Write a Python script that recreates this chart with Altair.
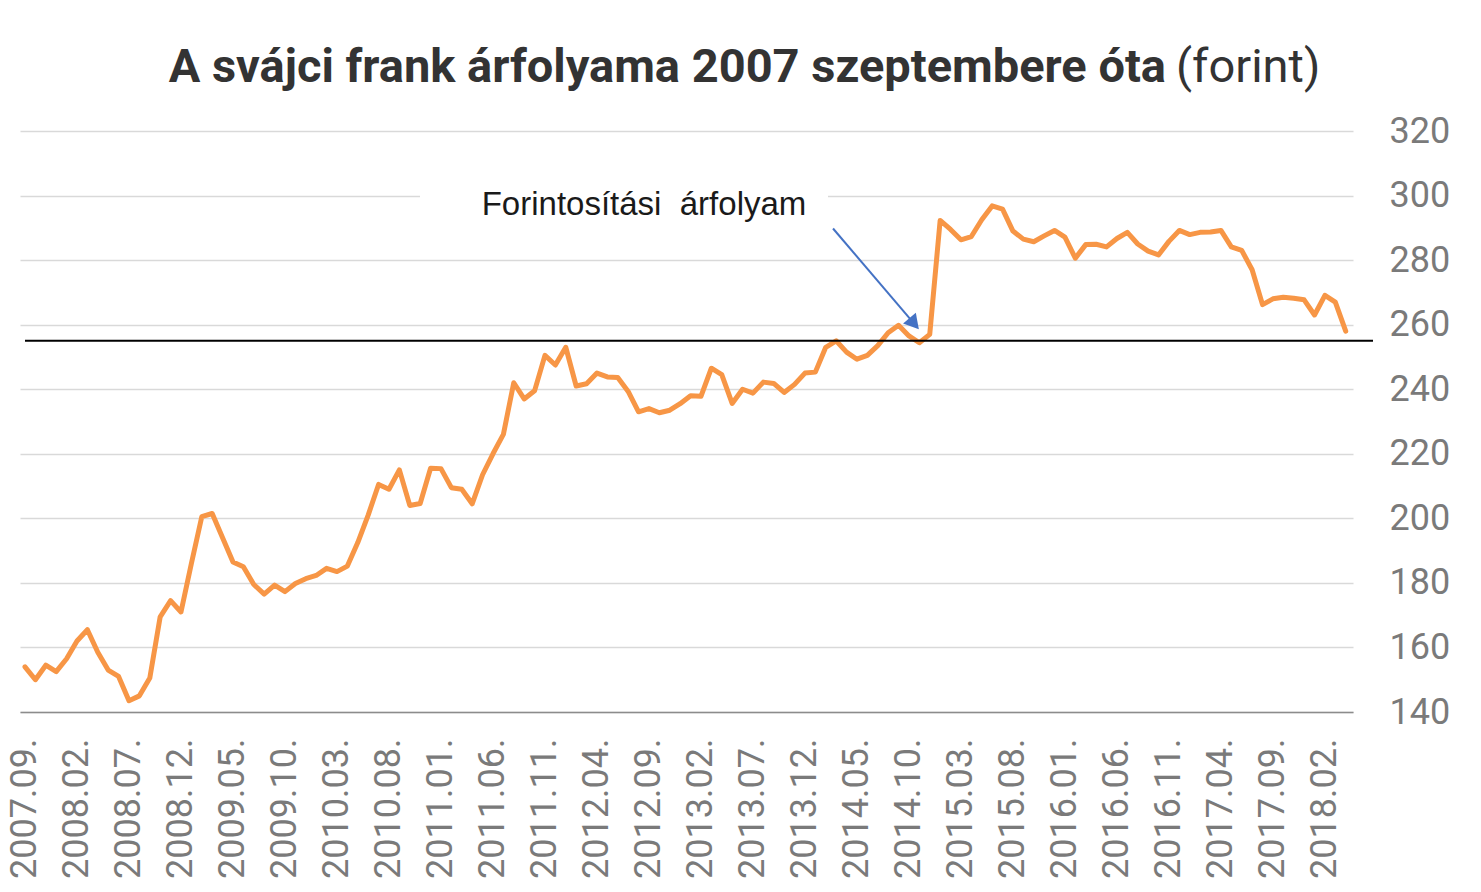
import altair as alt
import pandas as pd

# Monthly CHF/HUF exchange rate, 2007.09 - 2018.04
start_year = 2007
start_month = 9
values = [
    154.0, 150.0, 154.5, 152.5, 156.5, 162.0, 165.5, 158.5, 153.0, 151.0,
    143.5, 145.0, 150.5, 169.5, 174.5, 171.0, 186.0, 200.5, 201.5, 194.0,
    186.5, 185.0, 179.5, 176.5, 179.3, 177.3, 179.8, 181.3, 182.3, 184.5,
    183.5, 185.2, 192.5, 201.0, 210.5, 209.0, 215.0, 204.0, 204.6, 215.5,
    215.4, 209.5, 209.0, 204.5, 213.5, 220.0, 226.0, 242.0, 237.0, 239.5,
    250.5, 247.5, 253.0, 241.0, 241.7, 245.0, 243.8, 243.6, 239.3, 233.0,
    234.0, 232.7, 233.5, 235.5, 238.0, 237.8, 246.5, 244.5, 235.6, 240.0,
    238.8, 242.2, 241.8, 239.0, 241.5, 245.0, 245.3, 253.0, 255.0, 251.5,
    249.3, 250.5, 253.5, 257.5, 259.8, 256.5, 254.4, 257.0, 292.3, 289.5,
    286.3, 287.3, 292.5, 296.8, 295.8, 289.0, 286.5, 285.7, 287.5, 289.2,
    287.1, 280.6, 284.8, 284.9, 284.1, 286.7, 288.6, 285.0, 282.8, 281.6,
    285.8, 289.2, 287.9, 288.6, 288.7, 289.2, 284.1, 283.0, 277.0, 266.2,
    268.0, 268.5, 268.2, 267.7, 263.0, 269.1, 267.0, 258.0,
]
months = []
for k in range(len(values)):
    m = (start_month - 1 + k) % 12 + 1
    y = start_year + (start_month - 1 + k) // 12
    months.append(f"{y}.{m:02d}.")

conversion_rate = [255.0]          # forintosítási árfolyam (as drawn)
y_ticks = list(range(140, 321, 20))
x_tick_idx = list(range(0, len(values), 5))

title_bold = "A svájci frank árfolyama 2007 szeptembere óta"
title_regular = "(forint)"
annotation = "Forintosítási\u00a0 árfolyam"

# arrow (data coordinates: month index, forint)
arrow_start = (77.7, 289.8)
arrow_head = (85.5, 260.3)

df = pd.DataFrame({"idx": list(range(len(values))), "honap": months, "arfolyam": values})
df_ref = pd.DataFrame({"v": conversion_rate})
df_arrow = pd.DataFrame({"x1": [arrow_start[0]], "y1": [arrow_start[1]],
                         "x2": [arrow_head[0]], "y2": [arrow_head[1]]})
df_one = pd.DataFrame({"a": [0]})

GREY = "#7a7a7a"
FONT = "Roboto"

label_expr = ("(2007 + floor((datum.value + 8) / 12)) + '.' + "
              "(((datum.value + 8) % 12) + 1 < 10 ? '0' : '') + "
              "(((datum.value + 8) % 12) + 1) + '.'")

x_scale = alt.Scale(domain=[-0.48, 127.7], nice=False, zero=False)
y_scale = alt.Scale(domain=[140, 320], nice=False, zero=False)

line = alt.Chart(df).mark_line(color="#F79646", strokeWidth=5, strokeJoin="round",
                                strokeCap="round").encode(
    x=alt.X("idx:Q", scale=x_scale,
            axis=alt.Axis(values=x_tick_idx, labelExpr=label_expr, labelAngle=-90,
                          labelAlign="right", labelBaseline="middle",
                          labelFontSize=36, labelFont=FONT, labelColor=GREY,
                          labelPadding=26, tickSize=0, grid=False,
                          domainColor="#8c8c8c", domainWidth=1.5, title=None,
                          labelOverlap=False, labelBound=False, labelFlush=False)),
    y=alt.Y("arfolyam:Q", scale=y_scale,
            axis=alt.Axis(orient="right", values=y_ticks, labelFontSize=36,
                          labelFont=FONT, labelColor=GREY, labelPadding=36,
                          tickSize=0, domain=False, grid=True,
                          gridColor="#d9d9d9", gridWidth=1.5, title=None,
                          labelBaseline="middle")),
)

ref = alt.Chart(df_ref).mark_rule(color="#000000", strokeWidth=2).encode(
    y=alt.Y("v:Q", scale=y_scale),
    x=alt.value(5), x2=alt.value(1353),
)

box = alt.Chart(df_one).mark_rect(color="white").encode(
    x=alt.value(400), x2=alt.value(808), y=alt.value(52), y2=alt.value(92)
)

note = alt.Chart(df_one).mark_text(font="Liberation Sans", fontSize=33, color="#1a1a1a",
                                   align="center", baseline="middle").encode(
    x=alt.value(624), y=alt.value(74), text=alt.value(annotation)
)

arrow_line = alt.Chart(df_arrow).mark_rule(color="#4472C4", strokeWidth=2).encode(
    x=alt.X("x1:Q", scale=x_scale), y=alt.Y("y1:Q", scale=y_scale),
    x2="x2:Q", y2="y2:Q",
)
arrow_tip = alt.Chart(df_arrow).mark_point(shape="triangle-up", filled=True, opacity=1,
                                           color="#4472C4", size=280, angle=139.6).encode(
    x=alt.X("x2:Q", scale=x_scale), y=alt.Y("y2:Q", scale=y_scale),
)

t1 = alt.Chart(df_one).mark_text(font=FONT, fontSize=47, fontWeight="bold", color="#333333",
                                 align="right", baseline="alphabetic").encode(
    x=alt.value(1146), y=alt.value(-49), text=alt.value(title_bold)
)
t2 = alt.Chart(df_one).mark_text(font=FONT, fontSize=47, color="#333333",
                                 align="left", baseline="alphabetic").encode(
    x=alt.value(1156), y=alt.value(-49), text=alt.value(title_regular)
)

chart = alt.layer(box, line, ref, note, arrow_line, arrow_tip, t1, t2).properties(
    width=1333, height=581,
    autosize=alt.AutoSizeParams(type="none"),
    padding={"left": 20, "top": 131, "right": 128, "bottom": 180},
).configure_view(stroke=None)

chart.save("out.html", embed_options={"renderer": "svg", "actions": False})
